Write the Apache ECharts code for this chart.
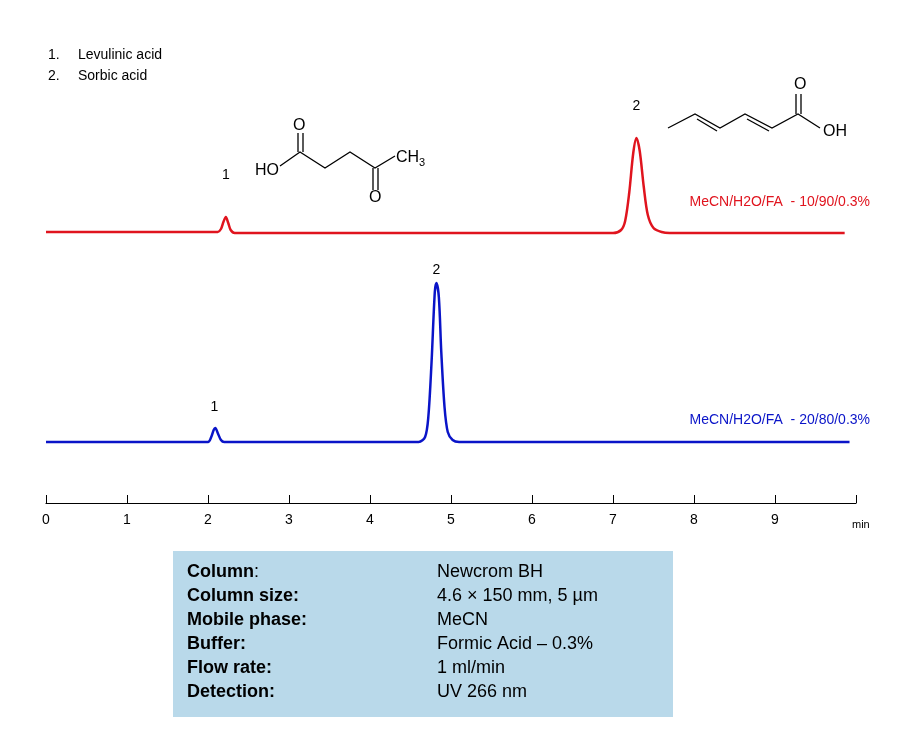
<!DOCTYPE html>
<html><head><meta charset="utf-8">
<script src="https://cdn.jsdelivr.net/npm/echarts@6/dist/echarts.min.js"></script>
<style>body{margin:0;background:#fff}#c{width:912px;height:730px}</style></head>
<body><div id="c"></div>
<script>
// Red trace (10/90/0.3%): time (min) and signal above its baseline
const redTime = [0, 2.12, 2.16, 2.19, 2.22, 2.25, 2.28, 2.33, 3.4, 7.0, 7.1, 7.15, 7.2, 7.25, 7.29, 7.33, 7.38, 7.43, 7.5, 7.6, 7.7, 9.86];
const redSig  = [1, 1, 4, 11, 16, 10, 3, 0, 0, 0, 3, 12, 40, 80, 95, 82, 46, 18, 5, 1, 0, 0];
// Blue trace (20/80/0.3%)
const blueTime = [0, 2.0, 2.04, 2.07, 2.09, 2.12, 2.16, 2.2, 4.6, 4.68, 4.72, 4.76, 4.8, 4.82, 4.85, 4.88, 4.92, 4.96, 5.02, 5.1, 9.92];
const blueSig  = [0, 0, 5, 12, 14, 9, 2, 0, 0, 5, 25, 80, 150, 159, 145, 90, 35, 10, 2, 0, 0];
const redBase = 270, blueBase = 61;
const xTicks = [0,1,2,3,4,5,6,7,8,9];
const tableLabels = ['Column', 'Column size:', 'Mobile phase:', 'Buffer:', 'Flow rate:', 'Detection:'];
const tableValues = ['Newcrom BH', '4.6 × 150 mm, 5 µm', 'MeCN', 'Formic Acid – 0.3%', '1 ml/min', 'UV 266 nm'];

const red = redTime.map((t,i)=>[t, redBase+redSig[i]]);
const blue = blueTime.map((t,i)=>[t, blueBase+blueSig[i]]);
const F = 'Arial, Liberation Sans, sans-serif';
const g = [];
const txt = (x,y,s,o={}) => g.push({type:'text', x, y, style:Object.assign({text:s, font:'14px '+F, fill:'#000'}, o)});
const line = (pts) => g.push({type:'polyline', shape:{points:pts}, style:{stroke:'#000', lineWidth:1.3, fill:null}});
txt(48,48,'1.'); txt(78,48,'Levulinic acid'); txt(48,69,'2.'); txt(78,69,'Sorbic acid');
g.push({type:'rect', shape:{x:173,y:551,width:500,height:166}, style:{fill:'#b9d9ea'}});
tableLabels.forEach((l,i)=>{
  g.push({type:'text', x:187, y:563+i*24, style:{rich:{b:{font:'bold 18px '+F}}, text: i===0?'{b|Column}:':'{b|'+l+'}', font:'18px '+F, fill:'#000'}});
  txt(437, 563+i*24, tableValues[i], {font:'18px '+F});
});
line([[280,166],[300,152],[325,168],[350,152],[375,168],[395,156]]);
line([[298,152],[298,133]]); line([[303,152],[303,133]]);
line([[373,168],[373,190]]); line([[378,168],[378,190]]);
txt(255,163,'HO',{font:'16px '+F}); txt(293,118,'O',{font:'16px '+F}); txt(369,190,'O',{font:'16px '+F});
g.push({type:'text', x:396, y:147, style:{text:'CH{s|3}', font:'16px '+F, fill:'#000', rich:{s:{font:'11px '+F, verticalAlign:'bottom', padding:[10,0,0,0]}}}});
line([[668,128],[695,114],[720,128],[745,114],[772,128],[798,114],[820,128]]);
line([[697,119],[717,131]]); line([[747,119],[769,131]]);
line([[796,114],[796,94]]); line([[801,114],[801,94]]);
txt(794,77,'O',{font:'16px '+F}); txt(823,124,'OH',{font:'16px '+F});
const lbl = (x,y,v,dy)=>({coord:[x,y], value:v, label:{offset:[0,dy]}});
const chart = echarts.init(document.getElementById('c'));
chart.setOption({
  animation:false,
  grid:{left:46, right:56, top:23, bottom:227},
  xAxis:{type:'value', min:0, max:10, interval:1, name:'min', nameLocation:'end', nameGap:-4,
    nameTextStyle:{fontSize:11, color:'#000', verticalAlign:'top', padding:[16,0,0,0], fontFamily:F},
    axisLine:{lineStyle:{color:'#000', width:1.2}}, axisTick:{inside:true, length:8, lineStyle:{color:'#000'}},
    axisLabel:{color:'#000', fontSize:14, fontFamily:F, margin:10, formatter:v=>xTicks.includes(v)?String(v):''},
    splitLine:{show:false}},
  yAxis:{type:'value', min:0, max:480, show:false, splitLine:{show:false}},
  series:[
    {type:'line', data:red, smooth:0.3, showSymbol:false, lineStyle:{color:'#e0141e', width:2.5},
     markPoint:{symbol:'circle', symbolSize:0, label:{show:true, color:'#000', fontSize:14, fontFamily:F},
       data:[lbl(2.22,286,'1',-42), lbl(7.29,365,'2',-32)]}},
    {type:'line', data:blue, smooth:0.3, showSymbol:false, lineStyle:{color:'#0a14c8', width:2.5},
     markPoint:{symbol:'circle', symbolSize:0, label:{show:true, color:'#000', fontSize:14, fontFamily:F},
       data:[lbl(2.08,75,'1',-21), lbl(4.82,220,'2',-13)]}}
  ],
  graphic:g.concat([
    {type:'text', right:42, top:195, style:{text:'MeCN/H2O/FA  - 10/90/0.3%', font:'14px '+F, fill:'#e0141e'}},
    {type:'text', right:42, top:413, style:{text:'MeCN/H2O/FA  - 20/80/0.3%', font:'14px '+F, fill:'#0a14c8'}}
  ])
});
</script></body></html>
